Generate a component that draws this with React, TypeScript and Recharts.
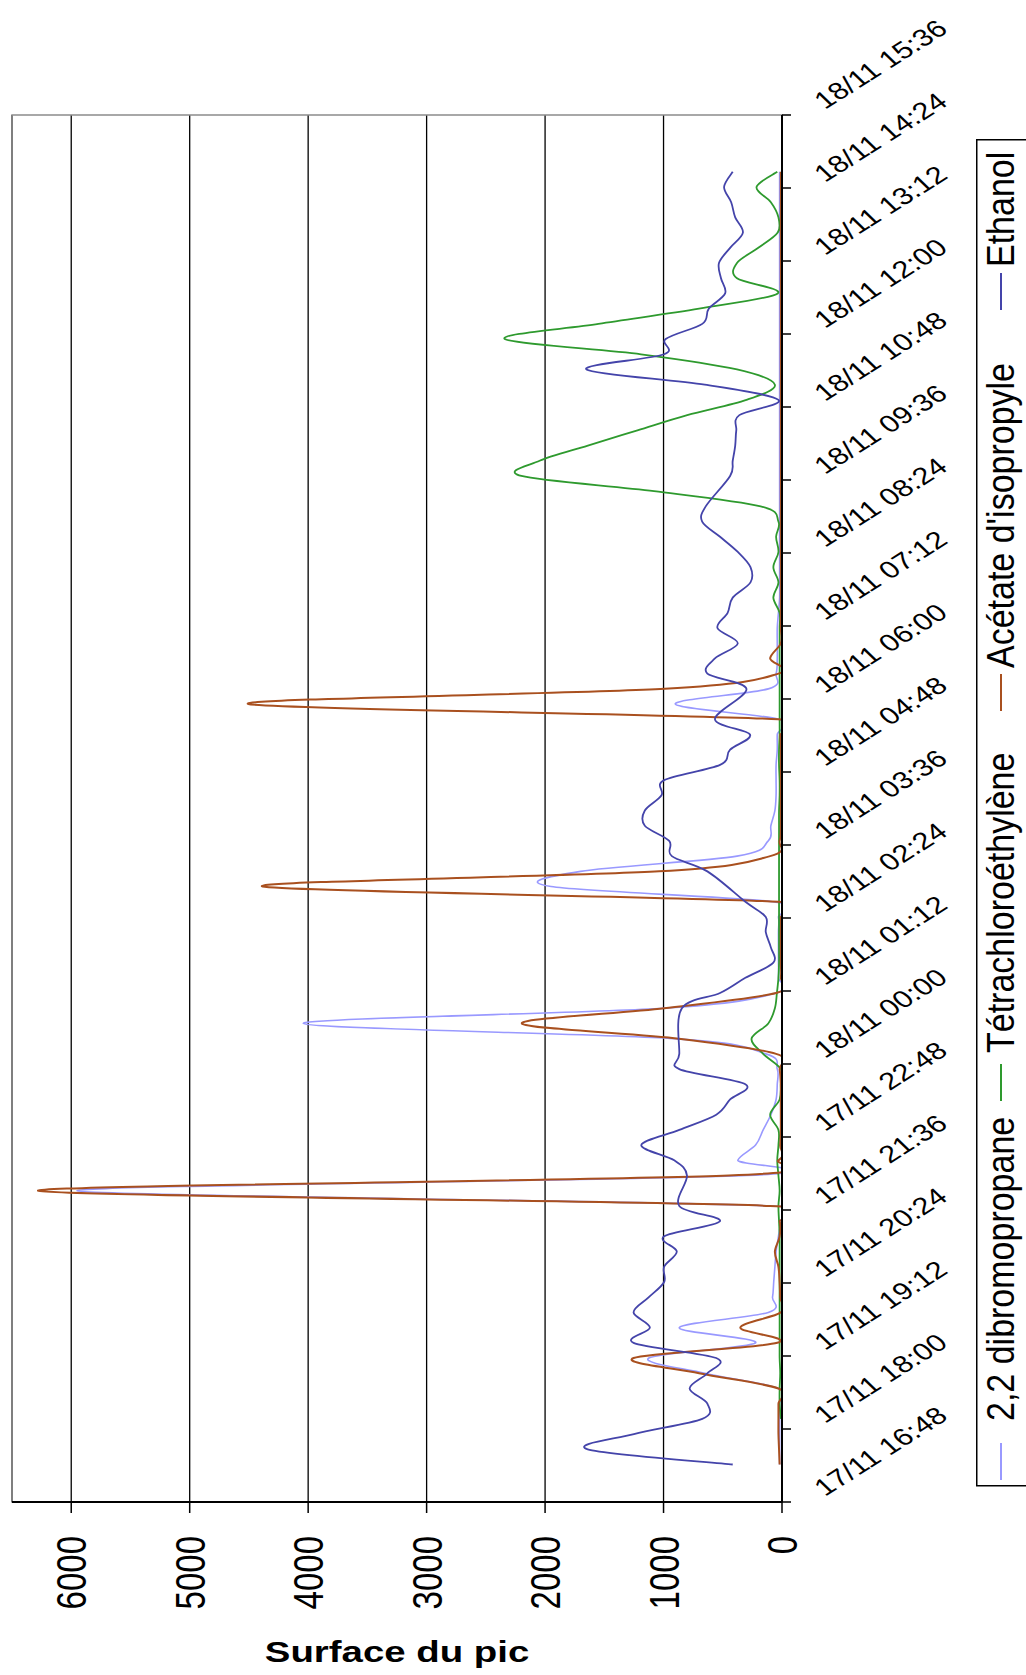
import React from "react";
import {
  LineChart,
  Line,
  XAxis,
  YAxis,
  CartesianGrid,
  Legend,
  ReferenceArea,
} from "recharts";

const FONT = "'Liberation Sans', Arial, sans-serif";

// one sample every 15 min, first one at 17/11 17:25 (minutes after 17/11 16:48)
const FIRST_SAMPLE_MIN = 37;
const SAMPLE_STEP_MIN = 15;

const dibromopropane = [
  20, 20, 20, 20, 20, 30, 650, 1124, 223, 867,
  116, 80, 70, 60, 50, 30, 20, 100, 5950, 300,
  373, 223, 159, 94, 50, 40, 40, 137, 910, 4041,
  1000, 50, 30, 30, 30, 30, 30, 80, 1950, 1700,
  380, 116, 94, 60, 50, 50, 50, 40, 40, 30,
  901, 116, 50, 40, 40, 40, 30, 20, 20, 20,
  20, 20, 20, 20, 20, 20, 20, 20, 20, 20,
  20, 20, 20, 20, 20, 20, 20, 20, 20, 20,
  20, 20, 20, 20, 20, 20,
];

const tetrachloroethylene = [
  null, null, null, 10, 20, 20, 15, 20, 20, 20,
  20, 20, 20, 20, 20, 20, 25, 30, 20, 30,
  40, 30, 30, 100, 20, 10, 10, 159, 257, 116,
  60, 43, 30, 25, 25, 25, 25, 25, 25, 25,
  25, 25, 25, 25, 20, 20, 25, 25, 20, 20,
  20, 20, 20, 20, 20, 20, 20, 73, 30, 73,
  30, 50, 30, 180, 1080, 2200, 2046, 1639, 1220, 800,
  300, 60, 380, 1190, 2340, 1550, 700, 36, 380, 380,
  200, 36, 30, 94, 215, 40,
];

const acetateIsopropyle = [
  20, 25, 30, 30, 30, 30, 700, 1253, 40, 352,
  10, 15, 20, 30, 60, 20, 20, 100, 6280, 450,
  30, 15, 10, 10, 10, 10, 20, 50, 870, 2196,
  995, 50, 10, 10, 10, 10, 10, 30, 4384, 1038,
  100, 20, 10, 10, 10, 10, 10, 10, 15, 30,
  4504, 990, 30, 100, 10, 10, 10, 10, 10, 10,
  10, 10, 10, 10, 10, 10, 10, 10, 10, 10,
  10, 10, 10, 10, 10, 10, 10, 10, 10, 10,
  10, 10, 10, 10, 10, 10,
];

const ethanol = [
  416, 1640, 1250, 673, 630, 780, 630, 555, 1253, 1115,
  1253, 1124, 995, 995, 888, 995, 523, 867, null, 802,
  910, 1188, 867, 555, 438, 309, 867, 867, null, null,
  845, 523, 309, 73, 94, 137, 137, 309, null, 630,
  930, 952, 1158, 1158, 1017, 995, 523, 438, 270, 566,
  null, 300, 630, 566, 373, 545, 459, 416, 266, 266,
  373, 523, 674, 644, null, 438, 416, 395, 386, 360,
  30, 652, 1650, 995, 982, 673, 618, 480, 515, 532,
  438, 330, 395, 429, 489, 416,
];

const timeTicks = [
  0, 72, 144, 216, 288, 360, 432, 504, 576, 648,
  720, 792, 864, 936, 1008, 1080, 1152, 1224, 1296, 1368,
];
const timeTickLabels = [
  "17/11 16:48", "17/11 18:00", "17/11 19:12", "17/11 20:24", "17/11 21:36",
  "17/11 22:48", "18/11 00:00", "18/11 01:12", "18/11 02:24", "18/11 03:36",
  "18/11 04:48", "18/11 06:00", "18/11 07:12", "18/11 08:24", "18/11 09:36",
  "18/11 10:48", "18/11 12:00", "18/11 13:12", "18/11 14:24", "18/11 15:36",
];
const valueTicks = [0, 1000, 2000, 3000, 4000, 5000, 6000];

const series = [
  { key: "dibromo", name: "2,2 dibromopropane", color: "#9999ff", width: 1.6 },
  { key: "tetra", name: "Tétrachloroéthylène", color: "#2e9a2e", width: 1.8 },
  { key: "acetate", name: "Acétate d'isopropyle", color: "#a9501f", width: 2 },
  { key: "ethanol", name: "Ethanol", color: "#4444aa", width: 1.8 },
];

const data = ethanol.map((_, i) => ({
  t: FIRST_SAMPLE_MIN + i * SAMPLE_STEP_MIN,
  dibromo: dibromopropane[i],
  tetra: tetrachloroethylene[i],
  acetate: acetateIsopropyle[i],
  ethanol: ethanol[i],
}));

// Excel-like smoothing (Catmull-Rom through the points)
const excelSmooth = (context: any) => {
  let pts: number[][] = [];
  return {
    areaStart() {},
    areaEnd() {},
    lineStart() {
      pts = [];
    },
    point(x: number, y: number) {
      pts.push([+x, +y]);
    },
    lineEnd() {
      const n = pts.length;
      if (!n) return;
      context.moveTo(pts[0][0], pts[0][1]);
      for (let i = 0; i < n - 1; i++) {
        const p0 = pts[Math.max(0, i - 1)];
        const p1 = pts[i];
        const p2 = pts[i + 1];
        const p3 = pts[Math.min(n - 1, i + 2)];
        context.bezierCurveTo(
          p1[0] + (p2[0] - p0[0]) / 6,
          p1[1] + (p2[1] - p0[1]) / 6,
          p2[0] - (p3[0] - p1[0]) / 6,
          p2[1] - (p3[1] - p1[1]) / 6,
          p2[0],
          p2[1]
        );
      }
    },
  };
};

const STRETCH = 1.28;

const ValueTick = (props: any) => {
  const { x, y, payload } = props;
  return (
    <text
      transform={`translate(${x},${y + 21}) scale(${STRETCH},1) rotate(-90)`}
      textAnchor="end"
      dy="0.36em"
      fontSize={33}
      fontFamily={FONT}
      fill="#000"
    >
      {payload.value}
    </text>
  );
};

const TimeTick = (props: any) => {
  const { x, y, payload } = props;
  const label = timeTickLabels[timeTicks.indexOf(payload.value)];
  return (
    <text
      transform={`translate(${x + 32},${y - 5}) scale(${STRETCH},1) rotate(-39)`}
      textAnchor="start"
      fontSize={24}
      fontFamily={FONT}
      fill="#000"
    >
      {label}
    </text>
  );
};

const AxisTitle = (props: any) => {
  const vb = props.viewBox || {};
  const cx = vb.x + vb.width / 2;
  return (
    <text
      transform={`translate(${cx},1662) scale(${STRETCH},1)`}
      textAnchor="middle"
      fontSize={30}
      fontWeight="bold"
      fontFamily={FONT}
      fill="#000"
    >
      Surface du pic
    </text>
  );
};

// legend box coordinates: bottom of each symbol, start of each name
const LEGEND_SYMBOL_Y = [1341, 962, 572, 171];
const LEGEND_TEXT_Y = [1282, 914, 529, 128];

const renderLegend = () => (
  <svg width={50} height={1348} style={{ display: "block" }}>
    <rect x={0.75} y={0.75} width={80} height={1346} fill="#fff" stroke="#000" strokeWidth={1.5} />
    {series.map((s, i) => (
      <g key={s.key}>
        <line
          x1={25}
          x2={25}
          y1={LEGEND_SYMBOL_Y[i]}
          y2={LEGEND_SYMBOL_Y[i] - 37}
          stroke={s.color}
          strokeWidth={2}
        />
        <text
          transform={`translate(38,${LEGEND_TEXT_Y[i]}) scale(1.15,1) rotate(-90)`}
          fontSize={34}
          fontFamily={FONT}
          fill="#000"
        >
          {s.name}
        </text>
      </g>
    ))}
  </svg>
);

export default function App() {
  return (
    <div
      style={{
        position: "absolute",
        left: 0,
        top: 0,
        width: 1026,
        height: 1675,
        background: "#fff",
        overflow: "hidden",
      }}
    >
      <LineChart
        width={1026}
        height={1675}
        data={data}
        layout="vertical"
        margin={{ top: 115, right: 0, bottom: 0, left: 12 }}
      >
        <CartesianGrid horizontal={false} vertical stroke="#000" strokeWidth={1.3} />
        <ReferenceArea x1={0} x2={6500} stroke="#8c8c8c" strokeWidth={1.5} fill="none" ifOverflow="visible" />
        <XAxis
          type="number"
          domain={[0, 6500]}
          ticks={valueTicks}
          reversed
          allowDataOverflow
          interval={0}
          height={173}
          tickSize={11}
          axisLine={{ stroke: "#000", strokeWidth: 2 }}
          tickLine={{ stroke: "#000", strokeWidth: 1.5 }}
          tick={<ValueTick />}
          label={{ content: <AxisTitle /> } as any}
        />
        <YAxis
          type="number"
          dataKey="t"
          orientation="right"
          domain={[0, 1368]}
          ticks={timeTicks}
          reversed
          allowDataOverflow
          interval={0}
          width={244}
          tickSize={9}
          axisLine={{ stroke: "#000", strokeWidth: 2 }}
          tickLine={{ stroke: "#000", strokeWidth: 1.5 }}
          tick={<TimeTick />}
        />
        <Legend
          layout="vertical"
          align="center"
          verticalAlign="middle"
          wrapperStyle={{ left: 976, top: 139, width: 50, height: 1348 }}
          content={renderLegend}
        />
        {series.map((s) => (
          <Line
            key={s.key}
            dataKey={s.key}
            name={s.name}
            type={excelSmooth as any}
            stroke={s.color}
            strokeWidth={s.width}
            dot={false}
            activeDot={false}
            isAnimationActive={false}
          />
        ))}
      </LineChart>
    </div>
  );
}
